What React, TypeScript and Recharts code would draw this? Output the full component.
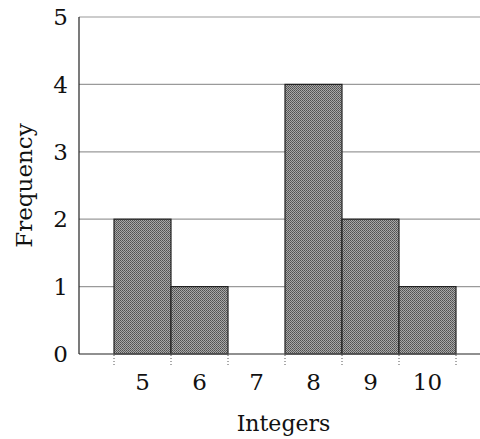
import { BarChart, Bar, XAxis, YAxis, CartesianGrid } from 'recharts';

const integers = ['5', '6', '7', '8', '9', '10'];
const frequency = [2, 1, 0, 4, 2, 1];
const yTicks = [0, 1, 2, 3, 4, 5];

const data = integers.map((v, i) => ({ integer: v, frequency: frequency[i] }));

const FONT = '"DejaVu Serif", "Liberation Serif", serif';

// bar rect plus the little dotted edge marks under the axis
const HistBar = (props: any) => {
  const { x, y, width, height, index } = props;
  const base = y + height;
  const last = index === data.length - 1;
  return (
    <g>
      {height > 0 && (
        <rect x={x} y={y} width={width} height={height} fill="url(#halftone)" stroke="#222" strokeWidth={1.2} />
      )}
      <line x1={x} y1={base + 1} x2={x} y2={base + 12} stroke="#555" strokeDasharray="1 2" />
      {last && <line x1={x + width} y1={base + 1} x2={x + width} y2={base + 12} stroke="#555" strokeDasharray="1 2" />}
    </g>
  );
};

export default function App() {
  return (
    <div style={{ position: 'absolute', left: 0, top: 0, background: '#fff' }}>
      <BarChart
        width={480}
        height={439}
        data={data}
        margin={{ top: 17, right: 0, bottom: 0, left: 0 }}
        barCategoryGap={0}
      >
        <defs>
          <pattern id="halftone" width="2" height="2" patternUnits="userSpaceOnUse">
            <rect width="2" height="2" fill="#a8a8a8" />
            <rect width="1" height="1" fill="#505050" />
            <rect x="1" y="1" width="1" height="1" fill="#606060" />
          </pattern>
        </defs>
        <CartesianGrid vertical={false} stroke="#9a9a9a" strokeWidth={1.2} />
        <XAxis
          dataKey="integer"
          padding={{ left: 35, right: 24 }}
          height={85}
          tickLine={false}
          tickSize={0}
          tickMargin={20}
          axisLine={{ stroke: '#555', strokeWidth: 1.2 }}
          tick={{ fontFamily: FONT, fontSize: 23, fill: '#111' }}
          label={{ value: 'Integers', position: 'insideBottom', offset: 8, dx: 4, style: { fontFamily: FONT, fontSize: 22, fill: '#111' } }}
        />
        <YAxis
          width={79}
          domain={[0, 5]}
          ticks={yTicks}
          tickLine={false}
          tickSize={0}
          tickMargin={11}
          axisLine={{ stroke: '#222', strokeWidth: 1.2 }}
          tick={{ fontFamily: FONT, fontSize: 23, fill: '#111' }}
          label={{ value: 'Frequency', angle: -90, position: 'center', dx: -16, style: { fontFamily: FONT, fontSize: 23, fill: '#111' } }}
        />
        <Bar dataKey="frequency" shape={HistBar} isAnimationActive={false} />
      </BarChart>
    </div>
  );
}
